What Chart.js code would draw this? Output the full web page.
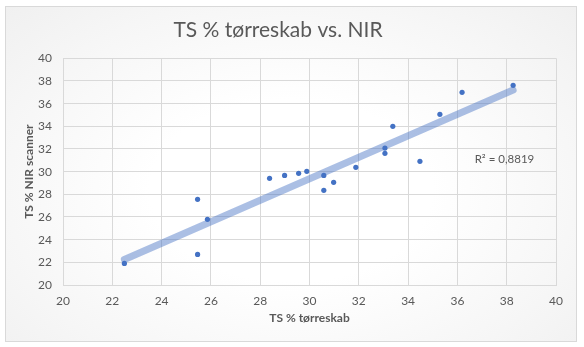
<!DOCTYPE html>
<html>
<head>
<meta charset="utf-8">
<script src="https://cdn.jsdelivr.net/npm/chart.js@4"></script>
<style>
  html, body { margin: 0; padding: 0; background: #ffffff; }
  #wrap { position: relative; width: 584px; height: 347px; }
  #frame {
    position: absolute; left: 5px; top: 6px; width: 570px; height: 334px;
    border: 1px solid #d9d9d9;
    background: radial-gradient(ellipse at 50% 55%, #ffffff 35%, #f6f6f6 75%, #f0f0f0 100%);
  }
  canvas { position: absolute; left: 0; top: 0; }
</style>
</head>
<body>
<div id="wrap">
  <div id="frame"></div>
  <canvas id="c" width="584" height="347"></canvas>
</div>
<script>
// Data
const tsOven = [22.49, 25.46, 25.46, 25.86, 28.38, 28.99, 29.56, 29.89, 30.58, 30.58, 30.98, 31.88, 33.06, 33.06, 33.38, 34.48, 35.29, 36.19, 38.26];
const tsNir  = [21.90, 27.56, 22.70, 25.79, 29.41, 29.67, 29.85, 30.03, 29.67, 28.35, 29.06, 30.38, 32.08, 31.62, 34.00, 30.91, 35.06, 37.00, 37.62];
// Linear trendline end points (as drawn in the reference)
const trendX = [22.49, 38.26];
const trendY = [22.25, 37.20];
const r2Label = "R² = 0,8819";
const r2Pos = { x: 36.7, y: 31.1 };

const titleText = "TS % tørreskab vs. NIR";
const xTitle = "TS % tørreskab";
const yTitle = "TS % NIR scanner";

const FONT = "Lato, 'Open Sans', sans-serif";
const GREY = "#595959";

const points = tsOven.map((x, i) => ({ x: x, y: tsNir[i] }));
const trend = trendX.map((x, i) => ({ x: x, y: trendY[i] }));

const r2Plugin = {
  id: 'r2Label',
  afterDatasetsDraw(chart) {
    const { ctx, scales } = chart;
    ctx.save();
    ctx.font = "11.5px " + FONT;
    ctx.fillStyle = GREY;
    ctx.textAlign = 'left';
    ctx.textBaseline = 'middle';
    ctx.fillText(r2Label, scales.x.getPixelForValue(r2Pos.x), scales.y.getPixelForValue(r2Pos.y));
    ctx.restore();
  }
};

new Chart(document.getElementById('c'), {
  type: 'scatter',
  data: {
    datasets: [
      {
        label: 'TS',
        data: points,
        backgroundColor: '#4472C4',
        borderColor: '#4472C4',
        pointRadius: 2.6,
        pointBorderWidth: 0,
        order: 1
      },
      {
        label: 'Trend',
        data: trend,
        showLine: true,
        borderColor: 'rgba(68,114,196,0.45)',
        borderWidth: 7,
        borderCapStyle: 'round',
        pointRadius: 0,
        order: 2
      }
    ]
  },
  options: {
    responsive: false,
    animation: false,
    layout: { padding: { left: 0, right: 28, top: 0, bottom: 0 } },
    plugins: {
      legend: { display: false },
      tooltip: { enabled: false },
      title: {
        display: true,
        text: titleText,
        color: GREY,
        font: { family: FONT, size: 21, weight: 'normal' },
        padding: { top: 17.5, bottom: 15.6 }
      }
    },
    scales: {
      x: {
        type: 'linear',
        min: 20, max: 40,
        afterFit(s) { s.height = 62; },
        ticks: { stepSize: 2, color: GREY, font: { family: FONT, size: 12 }, padding: 9 },
        grid: { color: '#d9d9d9', drawTicks: false },
        border: { color: '#d9d9d9' },
        title: { display: true, text: xTitle, color: GREY, font: { family: FONT, size: 12, weight: 'bold' }, padding: { top: 0, bottom: 22 } }
      },
      y: {
        type: 'linear',
        min: 20, max: 40,
        afterFit(s) { s.width = 63; },
        ticks: { stepSize: 2, color: GREY, font: { family: FONT, size: 12 }, padding: 11 },
        grid: { color: '#d9d9d9', drawTicks: false },
        border: { color: '#d9d9d9' },
        title: { display: true, text: yTitle, color: GREY, font: { family: FONT, size: 12, weight: 'bold' }, padding: { top: 22, bottom: 0 } }
      }
    }
  },
  plugins: [r2Plugin]
});
</script>
</body>
</html>
